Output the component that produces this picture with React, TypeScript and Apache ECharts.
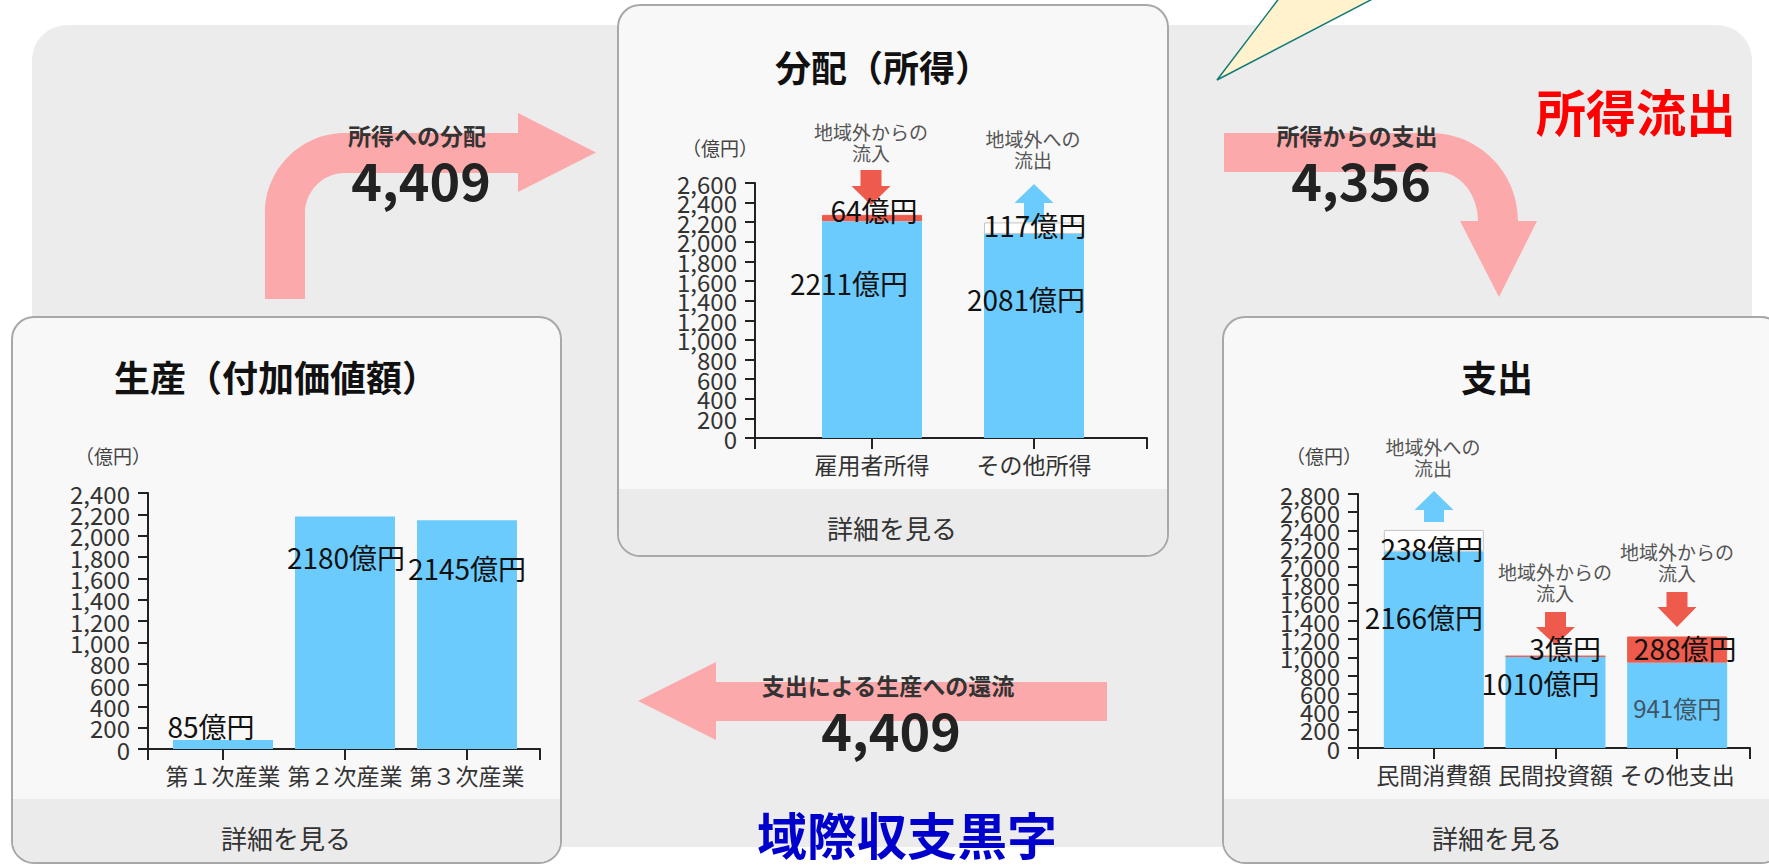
import React, { useEffect, useRef } from 'react';
import * as echarts from 'echarts';

const FONT = "'Noto Sans CJK JP', 'Noto Sans', sans-serif";

// ---------- data ----------
const productionCategories = ['第１次産業', '第２次産業', '第３次産業'];
const productionValues = [85, 2180, 2145];

const incomeCategories = ['雇用者所得', 'その他所得'];
const incomeBase = [2211, 2081];
const incomeFlow = [64, 117];
const incomeFlowKind = ['in', 'out'];

const spendingCategories = ['民間消費額', '民間投資額', 'その他支出'];
const spendingBase = [2166, 1010, 941];
const spendingFlow = [238, 3, 288];
const spendingFlowKind = ['out', 'in', 'in'];

// value-axis tick labels of the three charts
const productionTicks = [0, 200, 400, 600, 800, 1000, 1200, 1400, 1600, 1800, 2000, 2200, 2400];
const incomeTicks = [0, 200, 400, 600, 800, 1000, 1200, 1400, 1600, 1800, 2000, 2200, 2400, 2600];
const spendingTicks = [0, 200, 400, 600, 800, 1000, 1200, 1400, 1600, 1800, 2000, 2200, 2400, 2600, 2800];

const distributionTotal = 4409;
const spendingTotal = 4356;
const returnTotal = 4409;
const unitLabel = '億円';
const axisUnit = '（億円）';

// ---------- styles ----------
const BLUE = '#6ccbfd';
const RED = '#ee5a4b';
const ARROW = '#fba9aa';

const prodLabelPos = [[38, -14], [51, 41], [50, 48]];
const incomeBaseLabelPos = [[27, 62], [42, 65]];
const incomeFlowLabelPos = [[52, -5], [51, 3]];
const spendBaseLabelPos = [[40, 65], [35, 27], [50, 45]];
const spendFlowLabelPos = [[48, 18], [60, -8], [58, 11.5]];

// frame grids (axis extents) and bar grids (category bands)
const frames = [
  { left: 148, top: 493, right: 540, bottom: 749, barLeft: 162, barRight: 528 },
  { left: 755, top: 183, right: 1147, bottom: 438, barLeft: 791, barRight: 1115 },
  { left: 1358, top: 494, right: 1750, bottom: 748, barLeft: 1373, barRight: 1738 },
];

echarts.graphic.registerShape(
  'flowArrowA',
  echarts.graphic.extendPath(
    'M265 299 L265 213 C265 169 301 133 345 133 L518 133 L518 113 L596 152.5 L518 192 L518 173 L345 173 C323 173 305 191 305 213 L305 299 Z',
    {}
  )
);
echarts.graphic.registerShape(
  'flowArrowB',
  echarts.graphic.extendPath(
    'M1224 133 L1430 133 C1479 133 1518 172 1518 221 L1537 221 L1499 297 L1460 221 L1478 221 C1478 194 1460 172 1438 172 L1224 172 Z',
    {}
  )
);

const W = 1769;
const H = 865;

const addCommas = (n: number) => String(n).replace(/\B(?=(\d{3})+(?!\d))/g, ',');

function txt(text: string, x: number, y: number, size: number, color: string, weight: string = 'normal', z = 30, extra: any = {}) {
  return {
    type: 'text',
    z,
    style: {
      text,
      x,
      y,
      fontSize: size,
      fontWeight: weight,
      fontFamily: FONT,
      fill: color,
      align: 'center',
      verticalAlign: 'middle',
      textAlign: 'center',
      textVerticalAlign: 'middle',
      ...extra,
    },
  };
}

function panel(x: number, y: number, w: number, h: number, footerTop: number) {
  return [
    {
      type: 'rect',
      z: 2,
      shape: { x, y, width: w, height: h, r: 22 },
      style: { fill: '#f8f8f8', stroke: '#a8a8a8', lineWidth: 2 },
    },
    {
      type: 'rect',
      z: 3,
      shape: { x: x + 1, y: footerTop, width: w - 2, height: y + h - footerTop - 1, r: [0, 0, 21, 21] },
      style: { fill: '#ebebeb' },
    },
  ];
}

function downArrow(cx: number, y0: number, y1: number, y2: number, color: string) {
  const sw = 21, hw = 39;
  return {
    type: 'polygon',
    z: 15,
    shape: {
      points: [
        [cx - sw / 2, y0], [cx + sw / 2, y0], [cx + sw / 2, y1], [cx + hw / 2, y1],
        [cx, y2], [cx - hw / 2, y1], [cx - sw / 2, y1],
      ],
    },
    style: { fill: color },
  };
}

function upArrow(cx: number, tip: number, base: number, bottom: number, color: string) {
  const sw = 20, hw = 39;
  return {
    type: 'polygon',
    z: 15,
    shape: {
      points: [
        [cx, tip], [cx + hw / 2, base], [cx + sw / 2, base], [cx + sw / 2, bottom],
        [cx - sw / 2, bottom], [cx - sw / 2, base], [cx - hw / 2, base],
      ],
    },
    style: { fill: color },
  };
}

const valueLabel = {
  show: true,
  formatter: (p: any) => p.value + unitLabel,
  fontSize: 28,
  fontFamily: FONT,
  color: '#111',
  align: 'center',
  verticalAlign: 'middle',
};

function buildOption() {
  const grids: any[] = [];
  const xAxes: any[] = [];
  const yAxes: any[] = [];
  const cats = [productionCategories, incomeCategories, spendingCategories];
  const ticks = [productionTicks, incomeTicks, spendingTicks];

  frames.forEach((f, k) => {
    const tk = ticks[k];
    grids.push({ left: f.left, top: f.top, width: f.right - f.left, height: f.bottom - f.top, containLabel: false, outerBoundsMode: 'none' });
    grids.push({ left: f.barLeft, top: f.top, width: f.barRight - f.barLeft, height: f.bottom - f.top, containLabel: false, outerBoundsMode: 'none' });
    xAxes.push({
      gridIndex: 2 * k,
      type: 'value',
      min: 0,
      max: 1,
      interval: 1,
      z: 10,
      axisLine: { show: true, onZero: false, lineStyle: { color: '#222', width: 2 } },
      axisTick: { show: true, length: 11, lineStyle: { color: '#222', width: 2 } },
      axisLabel: { show: false },
      splitLine: { show: false },
    });
    xAxes.push({
      gridIndex: 2 * k + 1,
      type: 'category',
      data: cats[k],
      z: 10,
      axisLine: { show: false },
      axisTick: { show: true, alignWithLabel: true, length: 11, lineStyle: { color: '#222', width: 2 } },
      axisLabel: { show: true, interval: 0, fontSize: 23, color: '#333', fontFamily: FONT, margin: 14 },
      splitLine: { show: false },
    });
    // visible value scale: tick labels laid out evenly from 0 to the maximum
    yAxes.push({
      gridIndex: 2 * k,
      type: 'category',
      data: tk.map(addCommas),
      boundaryGap: false,
      z: 10,
      axisLine: { show: true, onZero: false, lineStyle: { color: '#222', width: 2 } },
      axisTick: { show: true, interval: 0, length: 10, lineStyle: { color: '#222', width: 2 } },
      axisLabel: { show: true, interval: 0, fontSize: 24, color: '#333', fontFamily: FONT, margin: 18 },
      splitLine: { show: false },
    });
    // value axis that the bars use (same extent)
    yAxes.push({
      gridIndex: 2 * k + 1,
      type: 'value',
      min: tk[0],
      max: tk[tk.length - 1],
      interval: tk[1] - tk[0],
      show: false,
      splitLine: { show: false },
    });
  });

  const flowStyle = (kind: string) =>
    kind === 'in'
      ? { color: RED, borderColor: RED, borderWidth: 1 }
      : { color: '#ffffff', borderColor: '#c4c4c4', borderWidth: 1 };

  const series: any[] = [
    {
      type: 'bar',
      xAxisIndex: 1,
      yAxisIndex: 1,
      barWidth: 100,
      z: 20,
      itemStyle: { color: BLUE },
      label: valueLabel,
      data: productionValues.map((v, i) => ({ value: v, label: { position: prodLabelPos[i] } })),
    },
    {
      type: 'bar',
      xAxisIndex: 3,
      yAxisIndex: 3,
      stack: 'income',
      barWidth: 100,
      z: 20,
      itemStyle: { color: BLUE },
      label: valueLabel,
      data: incomeBase.map((v, i) => ({ value: v, label: { position: incomeBaseLabelPos[i] } })),
    },
    {
      type: 'bar',
      xAxisIndex: 3,
      yAxisIndex: 3,
      stack: 'income',
      barWidth: 100,
      z: 20,
      label: valueLabel,
      data: incomeFlow.map((v, i) => ({
        value: v,
        itemStyle: flowStyle(incomeFlowKind[i]),
        label: { position: incomeFlowLabelPos[i] },
      })),
    },
    {
      type: 'bar',
      xAxisIndex: 5,
      yAxisIndex: 5,
      stack: 'spend',
      barWidth: 100,
      z: 20,
      itemStyle: { color: BLUE },
      label: valueLabel,
      data: spendingBase.map((v, i) => ({
        value: v,
        label:
          i === 2
            ? { position: spendBaseLabelPos[i], fontSize: 24, color: '#3f5566' }
            : { position: spendBaseLabelPos[i] },
      })),
    },
    {
      type: 'bar',
      xAxisIndex: 5,
      yAxisIndex: 5,
      stack: 'spend',
      barWidth: 100,
      z: 20,
      label: valueLabel,
      data: spendingFlow.map((v, i) => ({
        value: v,
        itemStyle: flowStyle(spendingFlowKind[i]),
        label: { position: spendFlowLabelPos[i] },
      })),
    },
  ];

  const graphic: any[] = [
    // background
    { type: 'rect', z: 1, shape: { x: 32, y: 25, width: 1720, height: 822, r: 35 }, style: { fill: '#ececec' } },
    // speech bubble tail
    {
      type: 'polygon',
      z: 1,
      shape: { points: [[1217, 80], [1293, -20], [1409, -20]] },
      style: { fill: '#fff2cc', stroke: '#137b78', lineWidth: 1.5 },
    },
    // flow arrows
    { type: 'flowArrowA', z: 4, x: 0, y: 0, style: { fill: ARROW } },
    { type: 'flowArrowB', z: 4, x: 0, y: 0, style: { fill: ARROW } },
    {
      type: 'polygon',
      z: 4,
      shape: { points: [[638, 701], [716, 662], [716, 682], [1107, 682], [1107, 721], [716, 721], [716, 740]] },
      style: { fill: ARROW },
    },
    ...panel(12, 317, 549, 546, 799),
    ...panel(618, 5, 550, 551, 489),
    ...panel(1223, 317, 560, 546, 799),
    // titles
    txt('生産（付加価値額）', 276, 376, 36, '#111', 'bold'),
    txt('分配（所得）', 883, 66, 36, '#111', 'bold'),
    txt('支出', 1497, 376, 36, '#111', 'bold'),
    // footers
    txt('詳細を見る', 286, 837, 26, '#333'),
    txt('詳細を見る', 892, 527, 26, '#333'),
    txt('詳細を見る', 1497, 837, 26, '#333'),
    // axis units
    txt(axisUnit, 113, 455, 19, '#444'),
    txt(axisUnit, 720, 147, 19, '#444'),
    txt(axisUnit, 1324, 455, 19, '#444'),
    // annotations
    txt('地域外からの\n流入', 871, 142, 19, '#555', 'normal', 30, { lineHeight: 21 }),
    txt('地域外への\n流出', 1033, 149, 19, '#555', 'normal', 30, { lineHeight: 21 }),
    txt('地域外への\n流出', 1433, 457, 19, '#555', 'normal', 30, { lineHeight: 21 }),
    txt('地域外からの\n流入', 1555, 582, 19, '#555', 'normal', 30, { lineHeight: 21 }),
    txt('地域外からの\n流入', 1677, 562, 19, '#555', 'normal', 30, { lineHeight: 21 }),
    downArrow(871, 170, 186, 205, RED),
    upArrow(1034, 184, 203, 222, BLUE),
    upArrow(1434, 491, 510, 522, BLUE),
    downArrow(1555.5, 612, 627, 645, RED),
    downArrow(1677, 592, 607, 627, RED),
    // flow texts
    txt('所得への分配', 417, 135, 23, '#333', 'bold'),
    txt(addCommas(distributionTotal), 421, 178, 52, '#222', 'bold'),
    txt('所得からの支出', 1357, 135, 23, '#333', 'bold'),
    txt(addCommas(spendingTotal), 1361, 178, 52, '#222', 'bold'),
    txt('支出による生産への還流', 888, 685, 23, '#333', 'bold'),
    txt(addCommas(returnTotal), 891, 728, 52, '#222', 'bold'),
    txt('所得流出', 1636, 110, 50, '#ff0000', 'bold'),
    txt('域際収支黒字', 907, 833, 50, '#0000cc', 'bold'),
  ];

  return {
    animation: false,
    textStyle: { fontFamily: FONT },
    grid: grids,
    xAxis: xAxes,
    yAxis: yAxes,
    series,
    graphic: { elements: graphic },
  };
}

export default function App() {
  const ref = useRef<HTMLDivElement>(null);
  useEffect(() => {
    if (!ref.current) return;
    const chart = echarts.init(ref.current, undefined, { renderer: 'svg' });
    chart.setOption(buildOption() as any);
    return () => chart.dispose();
  }, []);
  return (
    <div
      ref={ref}
      style={{ position: 'fixed', left: 0, top: 0, width: W, height: H, background: '#ffffff' }}
    />
  );
}
